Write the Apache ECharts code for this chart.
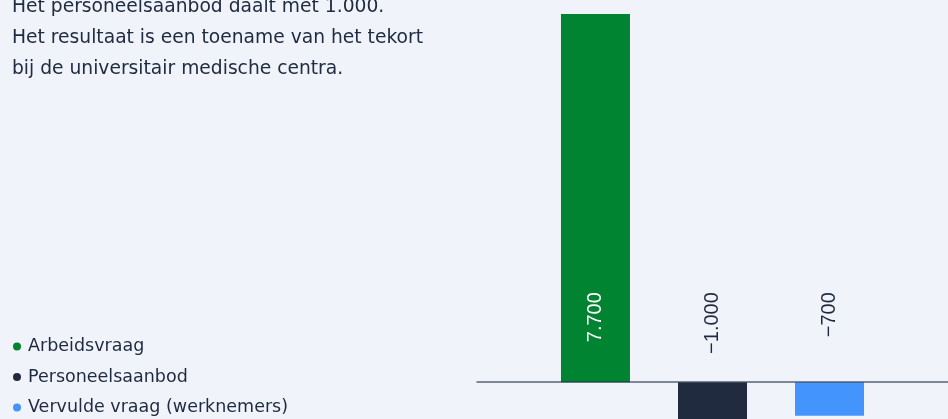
<!DOCTYPE html>
<html>
<head>
<meta charset="utf-8">
<script src="https://cdn.jsdelivr.net/npm/echarts@6/dist/echarts.min.js"></script>
<style>
  html, body { margin: 0; padding: 0; background: #f0f4fa; overflow: hidden; height: 419px; }
  /* iets hoger dan het venster: de negatieve balk loopt onder de rand door */
  #chart { width: 948px; height: 430px; }
</style>
</head>
<body>
<div id="chart"></div>
<script>
  // gegevens
  var seriesNames = ['Arbeidsvraag', 'Personeelsaanbod', 'Vervulde vraag (werknemers)'];
  var seriesValues = [7700, -1000, -700];
  var seriesColors = ['#008431', '#202b3f', '#4394fd'];
  var introLines = [
    'Het personeelsaanbod daalt met 1.000.',
    'Het resultaat is een toename van het tekort',
    'bij de universitair medische centra.'
  ];

  function fmt(v) {
    var s = String(Math.abs(v)).replace(/\B(?=(\d{3})+(?!\d))/g, '.');
    return (v < 0 ? '\u2212' : '') + s;
  }

  var myChart = echarts.init(document.getElementById('chart'));

  var series = seriesNames.map(function (name, i) {
    var v = seriesValues[i];
    return {
      name: name,
      type: 'bar',
      barWidth: 69,
      barGap: '69.6%',
      itemStyle: { color: seriesColors[i] },
      label: {
        show: true,
        position: v >= 0 ? 'insideBottom' : 'top',
        distance: 90,
        rotate: 90,
        align: 'right',
        verticalAlign: 'middle',
        fontFamily: 'Liberation Sans, Arial, sans-serif',
        fontSize: 20,
        color: v >= 0 ? '#ffffff' : '#1f2a3f',
        formatter: function (p) { return fmt(p.value); }
      },
      data: [v]
    };
  });

  var option = {
    backgroundColor: '#f0f4fa',
    animation: false,
    title: {
      text: introLines.join('\n'),
      left: 12,
      top: -8,
      padding: 0,
      textStyle: {
        fontFamily: 'DejaVu Sans, sans-serif',
        fontSize: 18.7,
        fontWeight: 'normal',
        lineHeight: 31,
        color: '#222c40'
      }
    },
    legend: {
      orient: 'vertical',
      left: 13,
      top: 337.5,
      padding: 0,
      icon: 'circle',
      itemWidth: 12,
      itemHeight: 8,
      itemGap: 12.5,
      selectedMode: false,
      textStyle: {
        fontFamily: 'DejaVu Sans, sans-serif',
        fontSize: 17.5,
        lineHeight: 16,
        color: '#1f2a3f'
      },
      data: seriesNames
    },
    grid: {
      left: 477,
      right: 0,
      top: 14,
      bottom: 0
    },
    xAxis: {
      type: 'category',
      data: [''],
      z: 10,
      axisLine: { onZero: true, lineStyle: { color: 'rgba(40,50,70,0.75)', width: 1.5 } },
      axisTick: { show: false },
      axisLabel: { show: false }
    },
    yAxis: {
      type: 'value',
      min: -1000,
      max: 7700,
      show: false,
      splitLine: { show: false }
    },
    series: series
  };

  myChart.setOption(option);
</script>
</body>
</html>
